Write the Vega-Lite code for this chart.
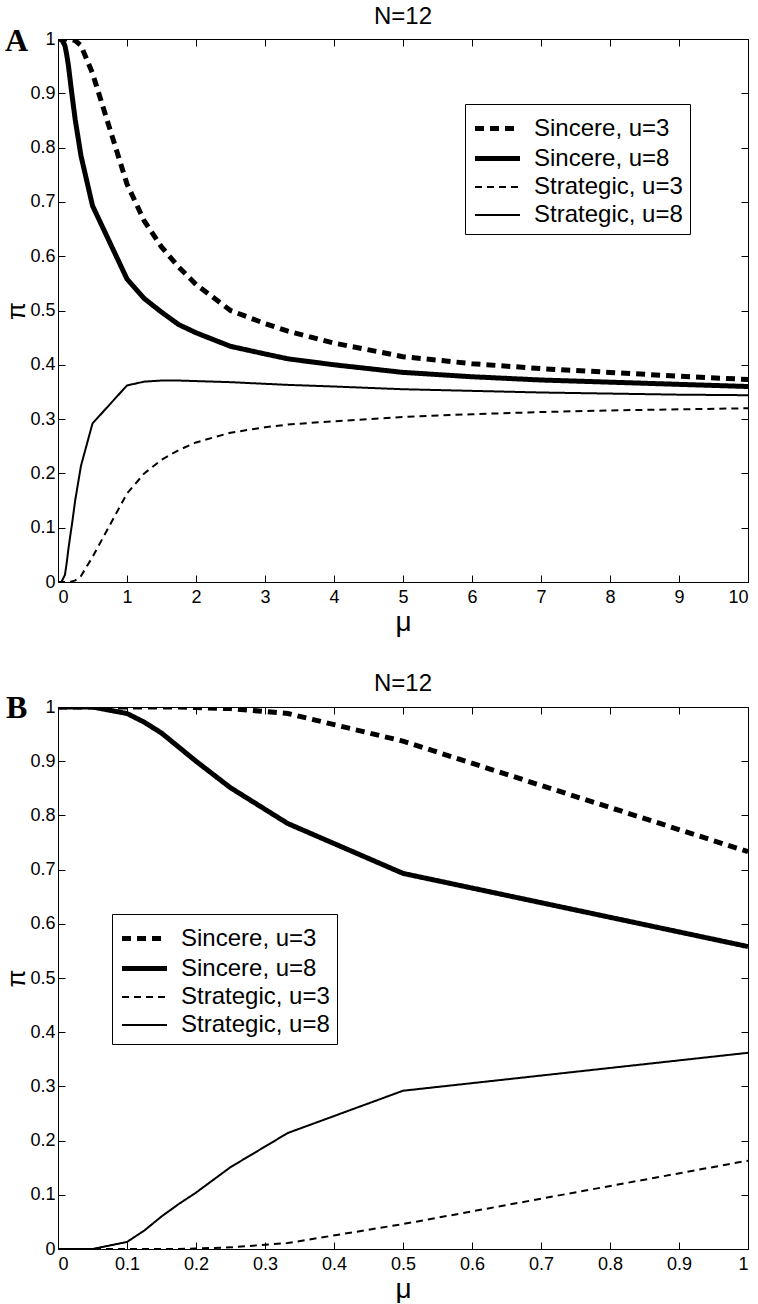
{
  "$schema": "https://vega.github.io/schema/vega-lite/v6.json",
  "background": "white",
  "padding": {"left": 3, "top": 5, "right": 5, "bottom": 0},
  "spacing": 35,
  "resolve": {
    "scale": {"strokeDash": "independent", "strokeWidth": "independent"},
    "legend": {"strokeDash": "independent", "strokeWidth": "independent"}
  },
  "config": {
    "font": "Liberation Sans",
    "view": {"stroke": null},
    "axis": {
      "grid": false,
      "domainColor": "black",
      "tickColor": "black",
      "labelColor": "black",
      "titleColor": "black",
      "labelFont": "Liberation Sans",
      "labelFontSize": 18,
      "titleFont": "Liberation Sans",
      "titleFontWeight": "normal",
      "titleFontSize": 28,
      "tickSize": -7,
      "domainWidth": 1,
      "tickWidth": 1
    },
    "title": {"font": "Liberation Sans", "fontSize": 24, "fontWeight": "normal", "color": "black", "offset": -4},
    "legend": {
      "title": null,
      "symbolType": "M-1.5,0H1.5",
      "symbolSize": 900,
      "symbolOffset": 8,
      "symbolStrokeColor": "black",
      "symbolFillColor": "transparent",
      "labelFont": "Liberation Sans",
      "labelFontSize": 24,
      "labelColor": "black",
      "labelOffset": 19,
      "padding": 7,
      "rowPadding": -2,
      "strokeColor": "black",
      "fillColor": "white"
    }
  },
  "datasets": {
    "curves": [
      {"mu": 0, "pi": 1, "s": "Sincere, u=3"},
      {"mu": 0.05, "pi": 1, "s": "Sincere, u=3"},
      {"mu": 0.1, "pi": 1, "s": "Sincere, u=3"},
      {"mu": 0.125, "pi": 1, "s": "Sincere, u=3"},
      {"mu": 0.15, "pi": 1, "s": "Sincere, u=3"},
      {"mu": 0.175, "pi": 1, "s": "Sincere, u=3"},
      {"mu": 0.2, "pi": 0.999, "s": "Sincere, u=3"},
      {"mu": 0.25, "pi": 0.997, "s": "Sincere, u=3"},
      {"mu": 0.333, "pi": 0.988, "s": "Sincere, u=3"},
      {"mu": 0.5, "pi": 0.937, "s": "Sincere, u=3"},
      {"mu": 1, "pi": 0.733, "s": "Sincere, u=3"},
      {"mu": 1.25, "pi": 0.665, "s": "Sincere, u=3"},
      {"mu": 1.5, "pi": 0.617, "s": "Sincere, u=3"},
      {"mu": 1.75, "pi": 0.58, "s": "Sincere, u=3"},
      {"mu": 2, "pi": 0.548, "s": "Sincere, u=3"},
      {"mu": 2.5, "pi": 0.5, "s": "Sincere, u=3"},
      {"mu": 3, "pi": 0.476, "s": "Sincere, u=3"},
      {"mu": 3.333, "pi": 0.462, "s": "Sincere, u=3"},
      {"mu": 4, "pi": 0.44, "s": "Sincere, u=3"},
      {"mu": 5, "pi": 0.415, "s": "Sincere, u=3"},
      {"mu": 6, "pi": 0.402, "s": "Sincere, u=3"},
      {"mu": 7, "pi": 0.393, "s": "Sincere, u=3"},
      {"mu": 8, "pi": 0.386, "s": "Sincere, u=3"},
      {"mu": 9, "pi": 0.379, "s": "Sincere, u=3"},
      {"mu": 10, "pi": 0.373, "s": "Sincere, u=3"},

      {"mu": 0, "pi": 1, "s": "Sincere, u=8"},
      {"mu": 0.05, "pi": 1, "s": "Sincere, u=8"},
      {"mu": 0.1, "pi": 0.988, "s": "Sincere, u=8"},
      {"mu": 0.125, "pi": 0.972, "s": "Sincere, u=8"},
      {"mu": 0.15, "pi": 0.952, "s": "Sincere, u=8"},
      {"mu": 0.175, "pi": 0.926, "s": "Sincere, u=8"},
      {"mu": 0.2, "pi": 0.9, "s": "Sincere, u=8"},
      {"mu": 0.25, "pi": 0.851, "s": "Sincere, u=8"},
      {"mu": 0.333, "pi": 0.785, "s": "Sincere, u=8"},
      {"mu": 0.5, "pi": 0.693, "s": "Sincere, u=8"},
      {"mu": 1, "pi": 0.558, "s": "Sincere, u=8"},
      {"mu": 1.25, "pi": 0.522, "s": "Sincere, u=8"},
      {"mu": 1.5, "pi": 0.497, "s": "Sincere, u=8"},
      {"mu": 1.75, "pi": 0.474, "s": "Sincere, u=8"},
      {"mu": 2, "pi": 0.459, "s": "Sincere, u=8"},
      {"mu": 2.5, "pi": 0.434, "s": "Sincere, u=8"},
      {"mu": 3, "pi": 0.42, "s": "Sincere, u=8"},
      {"mu": 3.333, "pi": 0.411, "s": "Sincere, u=8"},
      {"mu": 4, "pi": 0.4, "s": "Sincere, u=8"},
      {"mu": 5, "pi": 0.386, "s": "Sincere, u=8"},
      {"mu": 6, "pi": 0.378, "s": "Sincere, u=8"},
      {"mu": 7, "pi": 0.372, "s": "Sincere, u=8"},
      {"mu": 8, "pi": 0.368, "s": "Sincere, u=8"},
      {"mu": 9, "pi": 0.364, "s": "Sincere, u=8"},
      {"mu": 10, "pi": 0.36, "s": "Sincere, u=8"},

      {"mu": 0, "pi": 0, "s": "Strategic, u=3"},
      {"mu": 0.05, "pi": 0, "s": "Strategic, u=3"},
      {"mu": 0.1, "pi": 0, "s": "Strategic, u=3"},
      {"mu": 0.125, "pi": 0, "s": "Strategic, u=3"},
      {"mu": 0.15, "pi": 0, "s": "Strategic, u=3"},
      {"mu": 0.175, "pi": 0, "s": "Strategic, u=3"},
      {"mu": 0.2, "pi": 0.001, "s": "Strategic, u=3"},
      {"mu": 0.25, "pi": 0.003, "s": "Strategic, u=3"},
      {"mu": 0.333, "pi": 0.011, "s": "Strategic, u=3"},
      {"mu": 0.5, "pi": 0.046, "s": "Strategic, u=3"},
      {"mu": 1, "pi": 0.163, "s": "Strategic, u=3"},
      {"mu": 1.25, "pi": 0.2, "s": "Strategic, u=3"},
      {"mu": 1.5, "pi": 0.225, "s": "Strategic, u=3"},
      {"mu": 1.75, "pi": 0.243, "s": "Strategic, u=3"},
      {"mu": 2, "pi": 0.257, "s": "Strategic, u=3"},
      {"mu": 2.5, "pi": 0.275, "s": "Strategic, u=3"},
      {"mu": 3, "pi": 0.285, "s": "Strategic, u=3"},
      {"mu": 3.333, "pi": 0.29, "s": "Strategic, u=3"},
      {"mu": 4, "pi": 0.296, "s": "Strategic, u=3"},
      {"mu": 5, "pi": 0.304, "s": "Strategic, u=3"},
      {"mu": 6, "pi": 0.309, "s": "Strategic, u=3"},
      {"mu": 7, "pi": 0.313, "s": "Strategic, u=3"},
      {"mu": 8, "pi": 0.316, "s": "Strategic, u=3"},
      {"mu": 9, "pi": 0.318, "s": "Strategic, u=3"},
      {"mu": 10, "pi": 0.32, "s": "Strategic, u=3"},

      {"mu": 0, "pi": 0, "s": "Strategic, u=8"},
      {"mu": 0.05, "pi": 0, "s": "Strategic, u=8"},
      {"mu": 0.1, "pi": 0.013, "s": "Strategic, u=8"},
      {"mu": 0.125, "pi": 0.034, "s": "Strategic, u=8"},
      {"mu": 0.15, "pi": 0.06, "s": "Strategic, u=8"},
      {"mu": 0.175, "pi": 0.083, "s": "Strategic, u=8"},
      {"mu": 0.2, "pi": 0.104, "s": "Strategic, u=8"},
      {"mu": 0.25, "pi": 0.151, "s": "Strategic, u=8"},
      {"mu": 0.333, "pi": 0.214, "s": "Strategic, u=8"},
      {"mu": 0.5, "pi": 0.292, "s": "Strategic, u=8"},
      {"mu": 1, "pi": 0.362, "s": "Strategic, u=8"},
      {"mu": 1.25, "pi": 0.369, "s": "Strategic, u=8"},
      {"mu": 1.5, "pi": 0.371, "s": "Strategic, u=8"},
      {"mu": 1.75, "pi": 0.371, "s": "Strategic, u=8"},
      {"mu": 2, "pi": 0.37, "s": "Strategic, u=8"},
      {"mu": 2.5, "pi": 0.368, "s": "Strategic, u=8"},
      {"mu": 3, "pi": 0.365, "s": "Strategic, u=8"},
      {"mu": 3.333, "pi": 0.363, "s": "Strategic, u=8"},
      {"mu": 4, "pi": 0.36, "s": "Strategic, u=8"},
      {"mu": 5, "pi": 0.355, "s": "Strategic, u=8"},
      {"mu": 6, "pi": 0.352, "s": "Strategic, u=8"},
      {"mu": 7, "pi": 0.349, "s": "Strategic, u=8"},
      {"mu": 8, "pi": 0.347, "s": "Strategic, u=8"},
      {"mu": 9, "pi": 0.345, "s": "Strategic, u=8"},
      {"mu": 10, "pi": 0.344, "s": "Strategic, u=8"}
    ]
  },
  "vconcat": [
    {
      "title": "N=12",
      "width": 690,
      "height": 543,
      "data": {"name": "curves"},
      "layer": [
        {
          "mark": {"type": "line", "color": "black", "clip": true, "strokeCap": "butt"},
          "encoding": {
            "x": {"field": "mu", "type": "quantitative",
              "scale": {"domain": [0, 10], "nice": false},
              "axis": {"orient": "bottom", "values": [0,1,2,3,4,5,6,7,8,9,10], "format": "~r", "labelPadding": 13, "title": "μ", "titlePadding": 2}},
            "y": {"field": "pi", "type": "quantitative",
              "scale": {"domain": [0, 1], "nice": false},
              "axis": {"orient": "left", "values": [0,0.1,0.2,0.3,0.4,0.5,0.6,0.7,0.8,0.9,1], "format": "~r", "labelPadding": 10, "title": "π", "titleFontSize": 26, "titlePadding": 0}},
            "strokeDash": {"field": "s", "type": "nominal",
              "scale": {"type": "ordinal", "domain": ["Sincere, u=3", "Sincere, u=8", "Strategic, u=3", "Strategic, u=8"], "range": [[9, 6], [1, 0], [7, 5], [1, 0]]},
              "legend": {"orient": "none", "legendX": 407, "legendY": 65}},
            "strokeWidth": {"field": "s", "type": "nominal",
              "scale": {"type": "ordinal", "domain": ["Sincere, u=3", "Sincere, u=8", "Strategic, u=3", "Strategic, u=8"], "range": [5, 5, 2, 2]},
              "legend": {"orient": "none", "legendX": 407, "legendY": 65}}
          }
        },
        {
          "mark": {"type": "point", "opacity": 0},
          "encoding": {
            "x": {"field": "mu", "type": "quantitative",
              "axis": {"orient": "top", "labels": false, "title": null, "values": [0,1,2,3,4,5,6,7,8,9,10]}},
            "y": {"field": "pi", "type": "quantitative",
              "axis": {"orient": "right", "labels": false, "title": null, "values": [0,0.1,0.2,0.3,0.4,0.5,0.6,0.7,0.8,0.9,1]}}
          }
        },
        {
          "data": {"values": [{"tag": "A"}]},
          "mark": {"type": "text", "font": "Liberation Serif", "fontWeight": "bold", "fontSize": 32, "align": "center", "baseline": "middle", "color": "black"},
          "encoding": {
            "x": {"datum": -0.6, "type": "quantitative", "axis": null},
            "y": {"datum": 0.996, "type": "quantitative", "axis": null},
            "text": {"field": "tag"}
          }
        }
      ]
    },
    {
      "title": "N=12",
      "width": 690,
      "height": 542,
      "data": {"name": "curves"},
      "transform": [{"filter": "datum.mu <= 1"}],
      "layer": [
        {
          "mark": {"type": "line", "color": "black", "clip": true, "strokeCap": "butt"},
          "encoding": {
            "x": {"field": "mu", "type": "quantitative",
              "scale": {"domain": [0, 1], "nice": false},
              "axis": {"orient": "bottom", "values": [0,0.1,0.2,0.3,0.4,0.5,0.6,0.7,0.8,0.9,1], "format": "~r", "labelPadding": 13, "title": "μ", "titlePadding": 2}},
            "y": {"field": "pi", "type": "quantitative",
              "scale": {"domain": [0, 1], "nice": false},
              "axis": {"orient": "left", "values": [0,0.1,0.2,0.3,0.4,0.5,0.6,0.7,0.8,0.9,1], "format": "~r", "labelPadding": 10, "title": "π", "titleFontSize": 26, "titlePadding": 0}},
            "strokeDash": {"field": "s", "type": "nominal",
              "scale": {"type": "ordinal", "domain": ["Sincere, u=3", "Sincere, u=8", "Strategic, u=3", "Strategic, u=8"], "range": [[9, 6], [1, 0], [7, 5], [1, 0]]},
              "legend": {"orient": "none", "legendX": 54, "legendY": 207}},
            "strokeWidth": {"field": "s", "type": "nominal",
              "scale": {"type": "ordinal", "domain": ["Sincere, u=3", "Sincere, u=8", "Strategic, u=3", "Strategic, u=8"], "range": [5, 5, 2, 2]},
              "legend": {"orient": "none", "legendX": 54, "legendY": 207}}
          }
        },
        {
          "mark": {"type": "point", "opacity": 0},
          "encoding": {
            "x": {"field": "mu", "type": "quantitative",
              "axis": {"orient": "top", "labels": false, "title": null, "values": [0,0.1,0.2,0.3,0.4,0.5,0.6,0.7,0.8,0.9,1]}},
            "y": {"field": "pi", "type": "quantitative",
              "axis": {"orient": "right", "labels": false, "title": null, "values": [0,0.1,0.2,0.3,0.4,0.5,0.6,0.7,0.8,0.9,1]}}
          }
        },
        {
          "data": {"values": [{"tag": "B"}]},
          "mark": {"type": "text", "font": "Liberation Serif", "fontWeight": "bold", "fontSize": 32, "align": "center", "baseline": "middle", "color": "black"},
          "encoding": {
            "x": {"datum": -0.06, "type": "quantitative", "axis": null},
            "y": {"datum": 0.999, "type": "quantitative", "axis": null},
            "text": {"field": "tag"}
          }
        }
      ]
    }
  ]
}
